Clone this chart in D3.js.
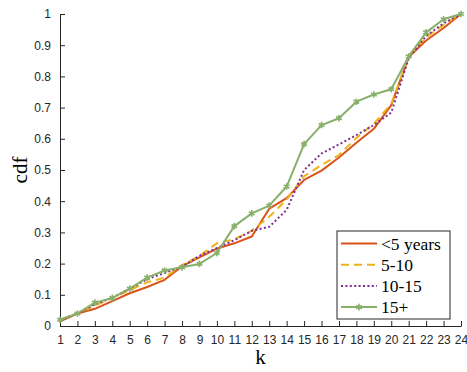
<!DOCTYPE html>
<html>
<head>
<meta charset="utf-8">
<script src="https://cdn.jsdelivr.net/npm/d3@7"></script>
<style>
  body { margin: 0; background: #fff; }
  .tick text { font-family: "Liberation Sans", Arial, sans-serif; font-size: 12px; fill: #262626; }
  .lab { font-family: "Liberation Serif", "DejaVu Serif", serif; }
</style>
</head>
<body>
<svg id="chart" width="467" height="372"></svg>
<script>
const ks = d3.range(1, 25);
const yTicks = [0, 0.1, 0.2, 0.3, 0.4, 0.5, 0.6, 0.7, 0.8, 0.9, 1];
const lt5 = [0.015, 0.04, 0.055, 0.08, 0.105, 0.125, 0.148, 0.192, 0.22, 0.248, 0.265, 0.287, 0.376, 0.41, 0.468, 0.498, 0.54, 0.587, 0.632, 0.708, 0.862, 0.915, 0.955, 1.0];
const s5to10 = [0.02, 0.04, 0.065, 0.09, 0.115, 0.14, 0.155, 0.195, 0.225, 0.265, 0.278, 0.305, 0.35, 0.405, 0.48, 0.516, 0.548, 0.603, 0.648, 0.712, 0.866, 0.925, 0.965, 1.0];
const s10to15 = [0.02, 0.04, 0.07, 0.09, 0.12, 0.15, 0.17, 0.19, 0.225, 0.25, 0.275, 0.305, 0.318, 0.372, 0.5, 0.553, 0.582, 0.612, 0.644, 0.684, 0.858, 0.93, 0.97, 1.0];
const s15 = [0.02, 0.04, 0.075, 0.09, 0.12, 0.155, 0.178, 0.188, 0.199, 0.234, 0.32, 0.361, 0.386, 0.447, 0.583, 0.644, 0.666, 0.719, 0.742, 0.759, 0.864, 0.941, 0.983, 1.0];

const series = [
  { name: '<5 years', values: lt5, color: '#D95319', dash: null },
  { name: '5-10', values: s5to10, color: '#EDB120', dash: '8,5' },
  { name: '10-15', values: s10to15, color: '#7E2F8E', dash: '2,2.4' },
  { name: '15+', values: s15, color: '#88B06A', dash: null, marker: true }
];

const svg = d3.select('#chart');
const padLeft = 60, padRight = 461, padTop = 14, padBottom = 326;

const x = d3.scaleLinear().domain([1, 24]).range([padLeft, padRight]);
const y = d3.scaleLinear().domain([0, 1]).range([padBottom, padTop]);

// axes, inward ticks
svg.append('g')
    .attr('transform', `translate(0,${padBottom})`)
    .call(d3.axisBottom(x).tickValues(ks).tickSizeInner(-5).tickSizeOuter(0).tickPadding(9))
    .call(g => g.selectAll('line, path').attr('stroke', '#262626'));

svg.append('g')
    .attr('transform', `translate(${padLeft},0)`)
    .call(d3.axisLeft(y).tickValues(yTicks).tickFormat(d => d === 1 ? '1' : d === 0 ? '0' : d3.format('.1f')(d))
      .tickSizeInner(-5).tickSizeOuter(0).tickPadding(9))
    .call(g => g.selectAll('line, path').attr('stroke', '#262626'));

const line = d3.line()
    .x((d, i) => x(ks[i]))
    .y(d => y(d));

series.forEach(s => {
  svg.append('path')
      .datum(s.values)
      .attr('fill', 'none')
      .attr('stroke', s.color)
      .attr('stroke-width', 2)
      .attr('stroke-dasharray', s.dash)
      .attr('stroke-linejoin', 'round')
      .attr('d', line);
});

// asterisk markers for 15+
const star = d3.symbol().type(d3.symbolAsterisk).size(30);
svg.append('g').selectAll('path')
    .data(s15)
    .join('path')
    .attr('transform', (d, i) => `translate(${x(ks[i])},${y(d)})`)
    .attr('d', star)
    .attr('fill', 'none')
    .attr('stroke', '#88B06A')
    .attr('stroke-width', 1.6);

// axis labels
svg.append('text').attr('class', 'lab')
    .attr('x', x(12.5)).attr('y', 364)
    .attr('text-anchor', 'middle')
    .attr('font-size', 21)
    .text('k');

svg.append('text').attr('class', 'lab')
    .attr('transform', `translate(27,${y(0.5)}) rotate(-90)`)
    .attr('text-anchor', 'middle')
    .attr('font-size', 21)
    .text('cdf');

// legend
const lg = svg.append('g').attr('transform', 'translate(337,231)');
lg.append('rect')
    .attr('width', 113).attr('height', 88)
    .attr('fill', '#fff').attr('stroke', '#262626').attr('stroke-width', 1);

series.forEach((s, i) => {
  const ry = 12.5 + i * 21.2;
  lg.append('line')
      .attr('x1', 4).attr('x2', 40).attr('y1', ry).attr('y2', ry)
      .attr('stroke', s.color).attr('stroke-width', 2)
      .attr('stroke-dasharray', s.dash);
  if (s.marker) {
    lg.append('path')
        .attr('transform', `translate(22,${ry})`)
        .attr('d', star)
        .attr('fill', 'none').attr('stroke', s.color).attr('stroke-width', 1.6);
  }
  lg.append('text').attr('class', 'lab')
      .attr('x', 44).attr('y', ry + 6)
      .attr('font-size', 17.5)
      .attr('fill', '#000')
      .text(s.name);
});
</script>
</body>
</html>
